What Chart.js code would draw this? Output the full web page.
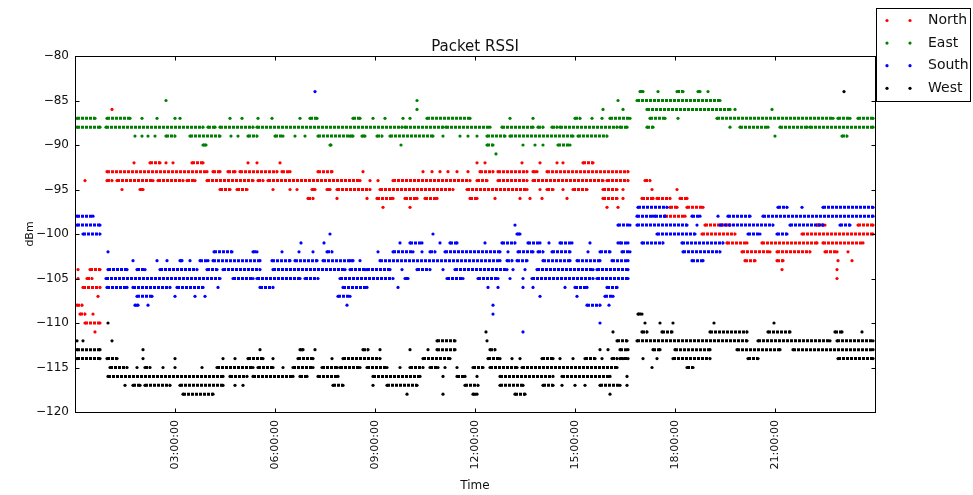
<!DOCTYPE html>
<html>
<head>
<meta charset="utf-8">
<script src="https://cdn.jsdelivr.net/npm/chart.js@4.4.0/dist/chart.umd.min.js"></script>
<style>
  html, body { margin: 0; padding: 0; background: #fff; }
  #wrap { width: 973px; height: 495px; }
</style>
</head>
<body>
<div id="wrap"><canvas id="rssi" width="973" height="495"></canvas></div>
<script>
// time is hours since midnight, values are dBm
var seriesNames = ["North", "East", "South", "West"];
var seriesColors = ["#ff0000", "#008000", "#0000ff", "#000000"];
var xTickHours = [3, 6, 9, 12, 15, 18, 21];
var yTicks = [-120, -115, -110, -105, -100, -95, -90, -85, -80];

// runs of packets at one level: [from, to, dBm]; dots: [time, dBm]
var northRuns = [
  [0.45, 0.75, -104], [0.36, 0.51, -105], [0.24, 0.75, -106], [0.06, 0.21, -108], [0.15, 0.30, -109], [0.30, 0.75, -110],
  [2.25, 2.55, -92], [3.51, 3.84, -92], [15.24, 15.54, -92],
  [0.96, 3.96, -93], [4.14, 4.35, -93], [4.59, 4.80, -93], [4.95, 6.06, -93], [6.21, 6.45, -93], [7.29, 7.71, -93],
  [12.15, 12.54, -93], [12.69, 13.56, -93], [13.74, 13.86, -93], [14.16, 16.59, -93],
  [0.96, 1.11, -94], [1.26, 2.34, -94], [2.49, 3.24, -94], [3.36, 3.60, -94], [3.96, 5.34, -94], [5.49, 5.64, -94],
  [5.79, 8.55, -94], [9.54, 11.85, -94], [12.06, 12.36, -94], [12.69, 13.56, -94], [13.74, 15.84, -94], [15.96, 16.59, -94], [17.10, 17.25, -94],
  [1.95, 2.04, -95], [4.35, 4.65, -95], [4.86, 5.16, -95], [7.11, 7.20, -95], [7.56, 7.65, -95], [7.86, 8.85, -95],
  [9.15, 11.34, -95], [11.76, 13.56, -95], [14.16, 14.34, -95], [14.94, 15.36, -95], [15.84, 16.26, -95],
  [6.99, 7.14, -96], [9.06, 9.54, -96], [9.90, 10.26, -96], [10.50, 10.86, -96], [11.85, 12.06, -96], [15.84, 16.26, -96],
  [17.01, 17.34, -96], [17.46, 17.85, -96], [18.15, 18.36, -96],
  [17.85, 18.06, -97], [18.36, 18.84, -97],
  [17.70, 18.30, -98],
  [18.90, 19.65, -99], [22.26, 22.50, -99], [23.49, 23.94, -99],
  [18.81, 19.80, -100], [21.81, 23.94, -100],
  [19.56, 20.16, -101], [20.61, 22.26, -101], [22.44, 23.64, -101],
  [20.01, 20.85, -102], [21.06, 22.05, -102], [22.50, 22.86, -102],
  [20.10, 20.40, -103], [21.06, 21.24, -103]
];
var northDots = [
  [0.09, -104], [0.09, -105], [0.69, -107], [0.54, -109], [0.60, -111], [0.30, -94], [1.11, -86],
  [1.77, -92], [2.73, -92], [2.94, -92], [5.19, -92], [5.46, -92], [6.15, -92], [12.06, -92], [12.30, -92],
  [13.41, -92], [13.95, -92], [14.46, -92], [14.64, -92],
  [8.64, -93], [10.44, -93], [10.71, -93], [10.95, -93], [11.19, -93], [11.46, -93], [11.79, -93],
  [8.85, -94], [9.09, -94],
  [1.41, -95], [5.94, -95], [6.45, -95], [6.66, -95], [13.95, -95], [14.64, -95], [16.44, -95], [17.31, -95], [18.06, -95],
  [7.86, -96], [8.76, -96], [12.60, -96], [13.35, -96], [13.65, -96], [14.01, -96], [14.76, -96], [16.44, -96],
  [9.24, -97], [10.05, -97], [15.96, -97], [16.29, -97],
  [23.19, -102], [22.89, -103], [23.31, -103], [21.21, -104], [22.86, -104], [22.86, -105]
];

var eastRuns = [
  [0.06, 0.75, -88], [0.93, 3.84, -88], [3.99, 4.20, -88], [4.35, 5.34, -88], [5.46, 9.81, -88], [9.90, 11.04, -88],
  [11.13, 12.45, -88], [12.81, 13.74, -88], [13.89, 14.04, -88], [14.31, 14.46, -88], [14.55, 16.26, -88], [16.35, 16.56, -88],
  [17.16, 17.34, -88], [19.95, 20.79, -88], [21.15, 21.96, -88], [22.05, 23.94, -88],
  [0.06, 0.60, -87], [0.96, 1.65, -87], [7.05, 7.26, -87], [8.34, 8.55, -87], [10.56, 11.85, -87], [15.00, 15.15, -87],
  [16.05, 16.65, -87], [17.25, 17.70, -87], [19.26, 22.74, -87], [22.89, 23.25, -87], [23.49, 23.94, -87],
  [2.73, 3.00, -89], [3.45, 4.35, -89], [5.19, 5.46, -89], [6.00, 6.24, -89], [7.29, 8.34, -89], [8.61, 8.70, -89],
  [9.06, 9.21, -89], [9.45, 10.74, -89], [12.36, 12.90, -89], [13.05, 14.94, -89], [15.09, 15.96, -89], [23.01, 23.16, -89],
  [3.84, 3.93, -90], [7.65, 7.68, -90], [12.36, 12.54, -90], [14.49, 14.85, -90],
  [17.16, 19.65, -86], [16.86, 19.35, -85],
  [16.95, 17.04, -84], [18.06, 18.24, -84], [18.69, 18.75, -84]
];
var eastDots = [
  [2.01, -87], [2.46, -87], [3.00, -87], [3.15, -87], [4.65, -87], [5.01, -87], [5.49, -87], [5.91, -87], [6.75, -87],
  [8.94, -87], [9.30, -87], [9.84, -87], [10.05, -87], [13.05, -87], [13.74, -87], [15.51, -87], [15.81, -87], [18.09, -87],
  [1.80, -89], [2.01, -89], [2.19, -89], [2.40, -89], [4.68, -89], [4.89, -89], [6.60, -89], [6.90, -89], [8.25, -89],
  [11.04, -89], [11.55, -89], [11.79, -89], [12.06, -89], [21.00, -89],
  [9.78, -90], [13.44, -90], [13.80, -90], [14.04, -90], [12.63, -91],
  [10.26, -86], [15.84, -86], [16.44, -86], [19.80, -86], [20.91, -86],
  [2.73, -85], [10.26, -85], [16.29, -85], [16.89, -85],
  [17.49, -84], [18.99, -84], [19.65, -88]
];

var southRuns = [
  [0.06, 0.54, -98], [0.06, 0.75, -99], [0.24, 0.75, -100],
  [16.29, 16.65, -99], [13.26, 13.35, -100],
  [10.05, 10.41, -101], [11.25, 11.46, -101], [12.81, 13.20, -101], [13.59, 13.95, -101], [14.55, 14.91, -101],
  [4.17, 4.71, -102], [5.34, 5.46, -102], [7.56, 7.71, -102], [9.54, 10.14, -102], [10.65, 10.80, -102], [11.10, 12.75, -102],
  [13.29, 13.74, -102], [13.89, 14.04, -102], [14.31, 14.85, -102], [15.75, 16.05, -102], [16.41, 16.65, -102],
  [3.15, 3.21, -103], [3.75, 3.99, -103], [4.14, 5.55, -103], [5.91, 6.45, -103], [6.60, 7.26, -103], [7.44, 8.34, -103],
  [9.15, 12.75, -103], [12.96, 13.11, -103], [13.26, 13.56, -103], [14.04, 14.85, -103], [15.06, 15.75, -103], [16.11, 16.59, -103],
  [0.99, 1.56, -104], [1.86, 2.10, -104], [2.55, 3.66, -104], [3.96, 4.26, -104], [4.44, 5.55, -104], [5.94, 8.10, -104],
  [8.25, 8.70, -104], [8.76, 9.45, -104], [10.26, 10.65, -104], [11.40, 12.96, -104], [13.86, 15.54, -104], [15.66, 16.59, -104],
  [0.93, 4.35, -105], [4.74, 5.34, -105], [5.46, 6.75, -105], [6.90, 7.29, -105], [7.95, 9.54, -105], [9.90, 9.99, -105],
  [11.16, 11.64, -105], [12.09, 12.69, -105], [13.71, 15.54, -105], [15.66, 16.59, -105],
  [0.96, 1.56, -106], [1.74, 2.85, -106], [3.06, 3.84, -106], [5.55, 5.94, -106], [8.04, 8.76, -106], [15.00, 15.36, -106], [15.96, 16.26, -106],
  [1.86, 2.31, -107], [7.89, 8.25, -107], [15.90, 16.14, -107],
  [1.80, 1.89, -108], [15.36, 15.75, -108],
  [16.89, 17.76, -97], [21.09, 21.36, -97], [22.44, 23.94, -97],
  [16.86, 17.34, -98], [17.40, 17.70, -98], [18.51, 18.75, -98], [19.59, 20.25, -98], [20.64, 23.94, -98],
  [16.86, 18.36, -99], [19.35, 20.94, -99], [21.45, 22.44, -99], [22.95, 23.25, -99],
  [17.46, 18.60, -100], [20.19, 20.55, -100], [21.06, 21.36, -100],
  [16.35, 16.59, -101], [17.01, 17.64, -101], [18.21, 19.44, -101],
  [18.24, 19.35, -102], [18.51, 18.84, -103]
];
var southDots = [
  [7.20, -84], [13.20, -99], [7.65, -100], [10.74, -100],
  [6.78, -101], [7.47, -101], [9.75, -101], [10.95, -101], [12.30, -101], [14.22, -101], [15.45, -101], [16.29, -101],
  [0.99, -102], [6.21, -102], [6.72, -102], [7.14, -102], [9.09, -102], [10.41, -102], [12.99, -102], [15.39, -102],
  [1.74, -103], [2.46, -103], [2.76, -103], [3.45, -103], [8.25, -103], [8.55, -103],
  [9.81, -104], [11.04, -104], [13.14, -104], [13.50, -104],
  [13.05, -105], [13.44, -105],
  [4.29, -106], [9.69, -106], [12.39, -106], [12.69, -106], [13.44, -106], [13.74, -106], [14.70, -106],
  [3.00, -107], [3.60, -107], [3.90, -107], [13.95, -107], [15.06, -107],
  [2.19, -108], [8.16, -108], [12.54, -108], [16.02, -108],
  [12.54, -109], [15.75, -110], [13.44, -111],
  [21.81, -97], [19.29, -98], [18.66, -99]
];

var westRuns = [
  [0.06, 0.75, -113], [6.75, 6.84, -113], [8.64, 8.79, -113], [10.86, 11.40, -113], [12.45, 12.60, -113], [16.35, 16.59, -113],
  [17.34, 17.55, -113], [18.00, 19.05, -113], [19.86, 21.15, -113], [21.54, 23.94, -113],
  [10.86, 11.40, -112], [16.26, 16.56, -112], [16.86, 20.16, -112], [20.49, 22.65, -112], [22.86, 23.94, -112],
  [17.01, 17.16, -111], [17.61, 17.91, -111], [19.05, 20.16, -111], [20.79, 21.45, -111], [22.80, 23.01, -111],
  [16.89, 17.01, -109],
  [0.06, 0.75, -114], [0.96, 1.26, -114], [5.19, 5.64, -114], [6.69, 7.14, -114], [8.04, 9.15, -114], [10.44, 11.25, -114],
  [12.39, 12.75, -114], [14.01, 14.34, -114], [15.30, 15.60, -114], [16.11, 16.26, -114], [16.35, 16.59, -114],
  [17.94, 19.05, -114], [20.19, 20.49, -114], [22.89, 23.94, -114],
  [1.05, 1.56, -115], [2.10, 2.25, -115], [4.26, 5.34, -115], [5.49, 5.94, -115], [6.54, 7.14, -115], [7.41, 7.86, -115],
  [7.95, 8.55, -115], [8.76, 9.36, -115], [10.05, 10.44, -115], [10.65, 10.89, -115], [11.94, 12.24, -115], [12.45, 13.26, -115],
  [13.41, 16.26, -115], [18.36, 18.54, -115],
  [0.99, 4.44, -116], [4.65, 5.16, -116], [5.34, 6.54, -116], [6.75, 6.96, -116], [7.29, 7.89, -116], [8.94, 10.35, -116],
  [11.46, 11.70, -116], [12.75, 14.34, -116], [14.61, 16.05, -116],
  [1.74, 1.95, -117], [2.10, 2.85, -117], [3.15, 4.44, -117], [7.74, 8.04, -117], [9.36, 10.26, -117], [11.70, 12.09, -117],
  [12.75, 13.44, -117], [14.04, 14.34, -117], [15.75, 16.35, -117],
  [3.24, 4.14, -118], [11.94, 12.06, -118], [13.20, 13.50, -118]
];
var westDots = [
  [0.99, -110], [0.06, -112], [0.24, -112], [1.11, -112], [12.36, -112],
  [2.04, -113], [5.55, -113], [7.20, -113], [9.15, -113], [10.05, -113], [10.59, -113], [15.75, -113], [15.99, -113],
  [2.04, -114], [3.00, -114], [4.44, -114], [4.80, -114], [5.94, -114], [7.71, -114], [13.11, -114], [13.35, -114],
  [14.55, -114], [14.94, -114], [15.81, -114], [16.44, -114], [17.04, -114], [17.46, -114],
  [1.86, -115], [2.64, -115], [3.00, -115], [3.81, -115], [6.24, -115], [9.75, -115], [11.10, -115], [11.46, -115], [17.31, -115],
  [11.04, -116], [12.06, -116], [16.56, -116],
  [1.50, -117], [4.80, -117], [5.04, -117], [8.94, -117], [14.61, -117], [15.00, -117], [15.30, -117], [16.56, -117],
  [9.96, -118], [11.04, -118], [16.05, -118],
  [12.33, -111], [16.14, -111], [23.61, -111],
  [17.10, -110], [17.55, -110], [17.94, -110], [19.17, -110], [20.97, -110],
  [23.07, -84]
];

var allRuns = [northRuns, eastRuns, southRuns, westRuns];
var allDots = [northDots, eastDots, southDots, westDots];

// a run becomes a short dotted segment, a null point breaks the line after it
function buildPoints(runs, dots) {
  var pts = [];
  runs.forEach(function(r) {
    pts.push({x: r[0], y: r[2]});
    pts.push({x: r[1], y: r[2]});
    pts.push({x: r[1], y: null});
  });
  dots.forEach(function(d) {
    pts.push({x: d[0], y: d[1]});
    pts.push({x: d[0], y: null});
  });
  return pts;
}

var datasets = seriesNames.map(function(name, i) {
  return {
    label: name,
    data: buildPoints(allRuns[i], allDots[i]),
    showLine: true,
    spanGaps: false,
    borderColor: seriesColors[i],
    backgroundColor: seriesColors[i],
    borderWidth: 3,
    borderDash: [3, 1],
    pointRadius: 1.6,
    pointBorderWidth: 0,
    pointBackgroundColor: seriesColors[i],
    order: 4 - i
  };
});

function hourLabel(h) {
  return (h < 10 ? '0' : '') + h + ':00:00';
}

var framePlugin = {
  id: 'frame',
  afterDraw: function(chart) {
    var a = chart.chartArea, ctx = chart.ctx;
    var xs = chart.scales.x, ys = chart.scales.y;
    ctx.save();
    ctx.strokeStyle = '#000';
    ctx.lineWidth = 1;
    var l = Math.round(a.left) + 0.5, r = Math.round(a.right) + 0.5;
    var t = Math.round(a.top) + 0.5, b = Math.round(a.bottom) + 0.5;
    ctx.strokeRect(l, t, r - l, b - t);
    ctx.beginPath();
    xTickHours.forEach(function(h) {
      var px = Math.round(xs.getPixelForValue(h)) + 0.5;
      ctx.moveTo(px, b); ctx.lineTo(px, b - 4);
      ctx.moveTo(px, t); ctx.lineTo(px, t + 4);
    });
    yTicks.forEach(function(v) {
      var py = Math.round(ys.getPixelForValue(v)) + 0.5;
      ctx.moveTo(l, py); ctx.lineTo(l + 4, py);
      ctx.moveTo(r, py); ctx.lineTo(r - 4, py);
    });
    ctx.stroke();

    // legend box, two markers per entry
    ctx.fillStyle = '#fff';
    ctx.fillRect(876.5, 8.5, 94, 93);
    ctx.strokeRect(876.5, 8.5, 94, 93);
    ctx.font = '14px "DejaVu Sans"';
    ctx.textBaseline = 'middle';
    seriesNames.forEach(function(name, i) {
      var y = 20.5 + i * 22.6;
      ctx.fillStyle = seriesColors[i];
      [887, 910].forEach(function(x) {
        ctx.beginPath();
        ctx.arc(x, y, 1.6, 0, Math.PI * 2);
        ctx.fill();
      });
      ctx.fillStyle = '#111';
      ctx.fillText(name, 928, y);
    });
    ctx.restore();
  }
};

Chart.defaults.font.family = '"DejaVu Sans", sans-serif';
Chart.defaults.color = '#111';

new Chart(document.getElementById('rssi'), {
  type: 'scatter',
  data: { datasets: datasets },
  options: {
    responsive: false,
    animation: false,
    layout: { padding: { left: 0, right: 98, top: 0, bottom: 0 } },
    plugins: {
      legend: { display: false },
      tooltip: { enabled: false },
      title: {
        display: true,
        text: 'Packet RSSI',
        fullSize: false,
        color: '#111',
        font: { size: 15, weight: 'normal' },
        padding: { top: 38, bottom: 0 }
      }
    },
    scales: {
      x: {
        type: 'linear',
        min: 0,
        max: 24,
        grid: { display: false, drawTicks: false },
        border: { display: false },
        afterBuildTicks: function(scale) {
          scale.ticks = xTickHours.map(function(h) { return { value: h }; });
        },
        afterFit: function(scale) { scale.height = 83; },
        ticks: {
          autoSkip: false,
          minRotation: 90,
          maxRotation: 90,
          padding: 8,
          font: { size: 11 },
          callback: function(v) { return hourLabel(v); }
        },
        title: { display: true, text: 'Time', font: { size: 12 }, padding: { top: 0, bottom: 2 } }
      },
      y: {
        min: -120,
        max: -80,
        grid: { display: false, drawTicks: false },
        border: { display: false },
        afterBuildTicks: function(scale) {
          scale.ticks = yTicks.map(function(v) { return { value: v }; });
        },
        afterFit: function(scale) { scale.width = 75; },
        ticks: {
          padding: 6,
          font: { size: 12 },
          callback: function(v) { return String(v).replace('-', '\u2212'); }
        },
        title: { display: true, text: 'dBm', font: { size: 11 }, padding: { top: 24, bottom: 0 } }
      }
    }
  },
  plugins: [framePlugin]
});
</script>
</body>
</html>
